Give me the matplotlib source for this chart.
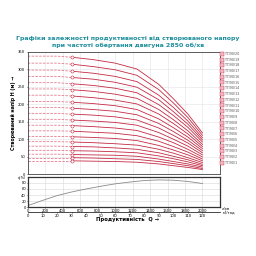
import matplotlib
matplotlib.use("Agg")
import matplotlib.pyplot as plt
from matplotlib.lines import Line2D

# flow points, m3/h
q = [0, 20, 30, 45, 60, 75, 90, 100, 110, 120]

# head curves (m), one per pump model, top to bottom
heads = [
    [338, 338, 335, 328, 318, 301, 257, 216, 172, 118],
    [318, 318, 315, 308, 299, 283, 242, 204, 162, 111],
    [298, 298, 295, 289, 280, 265, 226, 191, 152, 104],
    [280, 280, 277, 272, 263, 249, 213, 179, 143, 98],
    [262, 262, 259, 254, 246, 233, 199, 168, 134, 92],
    [244, 244, 242, 237, 229, 217, 185, 156, 124, 85],
    [226, 226, 224, 219, 212, 201, 172, 145, 115, 79],
    [208, 208, 206, 202, 196, 185, 158, 133, 106, 73],
    [191, 191, 189, 185, 180, 170, 145, 122, 97, 67],
    [174, 174, 172, 169, 164, 155, 132, 111, 89, 61],
    [157, 157, 155, 152, 148, 140, 119, 100, 80, 55],
    [140, 140, 139, 136, 132, 125, 106, 90, 71, 49],
    [124, 124, 123, 120, 117, 110, 94, 79, 63, 43],
    [108, 108, 107, 105, 102, 96, 82, 69, 55, 38],
    [93, 93, 92, 90, 87, 83, 71, 60, 47, 33],
    [80, 80, 79, 78, 75, 71, 61, 51, 41, 28],
    [68, 68, 67, 66, 64, 61, 52, 44, 35, 24],
    [57, 57, 56, 55, 54, 51, 43, 36, 29, 20],
    [47, 47, 47, 46, 44, 42, 36, 30, 24, 16],
    [38, 38, 38, 37, 36, 34, 29, 24, 19, 13],
]
models = ["ТП90/20", "ТП90/19", "ТП90/18", "ТП90/17", "ТП90/16",
          "ТП90/15", "ТП90/14", "ТП90/13", "ТП90/12", "ТП90/11",
          "ТП90/10", "ТП90/9", "ТП90/8", "ТП90/7", "ТП90/6",
          "ТП90/5", "ТП90/4", "ТП90/3", "ТП90/2", "ТП90/1"]

# efficiency curve
q_eff = [0, 10, 20, 30, 40, 50, 60, 70, 80, 90, 100, 110, 120]
eff = [5, 22, 38, 50, 60, 69, 77, 83, 88, 90, 89, 85, 78]

lpm_ticks = [0, 200, 400, 600, 800, 1000, 1200, 1400, 1600, 1800, 2000]
m3h_ticks = [0, 10, 20, 30, 40, 50, 60, 70, 80, 90, 100, 110, 120]

red = "#c42a44"
pink = "#e57b8e"
teal = "#1f8e9c"
fs = 2.7

fig = plt.figure(figsize=(2.56, 2.56), dpi=100)
fig.patch.set_facecolor("white")

ax = fig.add_axes([0.109, 0.320, 0.750, 0.477])
ax2 = fig.add_axes([0.109, 0.191, 0.750, 0.118])

grid_x = [v * 0.06 for v in lpm_ticks] + [132]

for h in heads:
    ax.plot(q[:3], h[:3], color=pink, lw=0.6, ls=(0, (3, 1.5)))
    ax.plot(q[2:], h[2:], color=red, lw=0.6)
    ax.plot(q[2], h[2], marker="o", ms=2.2, mfc="white", mec=red, mew=0.4)

ax.set_xlim(0, 132)
ax.set_ylim(0, 350)
ax.set_yticks(range(0, 351, 50))
ax.set_xticks(grid_x)
ax.set_xticklabels([])
ax.tick_params(axis="x", length=0)
ax.tick_params(axis="y", labelsize=fs, length=1, width=0.4, pad=1)
ax.grid(True, color="#e3e3e3", lw=0.4)
for s in ax.spines.values():
    s.set_color("#444444")
    s.set_linewidth(0.6)
ax.set_ylabel("Створюваний напір H (м) →", fontsize=3.4, fontweight="bold", labelpad=1.5)

ax2.plot(q_eff, eff, color="#8a8a8a", lw=0.6)
ax2.set_xlim(0, 132)
ax2.set_ylim(0, 100)
ax2.set_yticks([0, 20, 40, 60, 80])
ax2.set_xticks([v * 0.06 for v in lpm_ticks])
ax2.set_xticklabels([str(v) for v in lpm_ticks])
ax2.tick_params(labelsize=fs, length=0.8, width=0.4, pad=0.5)
ax2.grid(True, color="#d8d8d8", lw=0.4)
for s in ax2.spines.values():
    s.set_color("#333333")
    s.set_linewidth(0.9)
ax2.text(-0.01, 0.98, "η(%)", transform=ax2.transAxes, fontsize=2.5, ha="right", va="center")

sec = ax2.secondary_xaxis(-0.17)
sec.set_xticks(m3h_ticks)
sec.set_xticklabels([str(v) for v in m3h_ticks])
sec.tick_params(labelsize=fs, length=0.8, width=0.4, pad=0.5)
sec.spines["bottom"].set_linewidth(0.5)

fig.text(0.868, 0.183, "л/хв", fontsize=fs, va="center")
fig.text(0.868, 0.165, "м³/год", fontsize=fs, va="center")
fig.text(0.5, 0.142, "Продуктивність  Q →", fontsize=3.8, fontweight="bold", ha="center", va="center")

fig.text(0.5, 0.836, "Графіки залежності продуктивності від створюваного напору\nпри частоті обертання двигуна 2850 об/хв",
         fontsize=4.5, fontweight="bold", color=teal, ha="center", va="center", linespacing=1.4)

handles = [Line2D([], [], ls="none", marker="s", ms=2.4, mfc="#f2b8c4", mec=red, mew=0.3)
           for _ in models]
leg = fig.legend(handles, models, loc="upper left", bbox_to_anchor=(0.862, 0.797),
                 fontsize=2.4, frameon=False, handlelength=0.8, handletextpad=0.4,
                 labelspacing=0.52, borderaxespad=0, borderpad=0)
for t in leg.get_texts():
    t.set_color("#555555")

fig.savefig("out.png", dpi=100, facecolor="white")
